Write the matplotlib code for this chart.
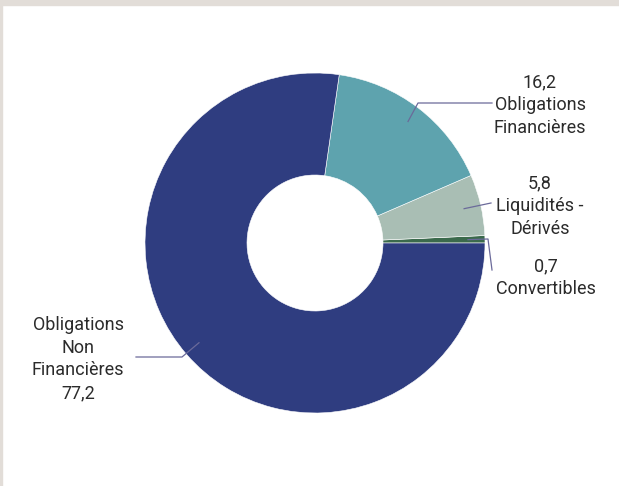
import matplotlib.pyplot as plt
import matplotlib.patches as mpatches
import numpy as np

# données (%)
labels = ['Convertibles', 'Liquidités -\nDérivés', 'Obligations\nFinancières', 'Obligations\nNon\nFinancières']
values = [0.7, 5.8, 16.2, 77.2]
value_txt = ['0,7', '5,8', '16,2', '77,2']
colors = ['#3b6a4c', '#a9beb4', '#5ea3ae', '#2f3d80']

W, H = 619, 486
cx, cy, R = 315, 243, 170   # centre et rayon en pixels

def p(x, y):
    # pixel -> coordonnées données (rayon du camembert = 1)
    return ((x - cx) / R, (cy - y) / R)

fig = plt.figure(figsize=(W / 100, H / 100), dpi=100)
fig.patch.set_facecolor('white')
ax = fig.add_axes([0, 0, 1, 1])
ax.axis('off')

wedges, _ = ax.pie(values, colors=colors, startangle=0, counterclock=True,
                   radius=1, wedgeprops=dict(width=0.6, edgecolor='white', linewidth=0.4))
ax.set_xlim(-cx / R, (W - cx) / R)
ax.set_ylim((cy - H) / R, cy / R)

# bordure grise (haut et gauche)
fig.patches.append(mpatches.Rectangle((0, 1 - 5 / H), 1, 5 / H, transform=fig.transFigure,
                                      color='#e2ddd8', zorder=0))
fig.patches.append(mpatches.Rectangle((0, 0), 2 / W, 1, transform=fig.transFigure,
                                      color='#e2ddd8', zorder=0))

# lignes de rappel : point d'ancrage sur l'angle médian de chaque part
line_col = '#6b6a9a'
elbows = [
    [p(488, 239), p(492, 270)],
    [p(491, 203)],
    [p(418, 103), p(492, 103)],
    [p(182, 357), p(136, 357)],
]
text_pos = [p(546, 278), p(540, 206), p(540, 105), p(78, 359)]

cum = 0
for i, v in enumerate(values):
    mid = np.deg2rad((cum + v / 2) / 100 * 360)
    cum += v
    a = (0.9 * np.cos(mid), 0.9 * np.sin(mid))
    pts = [a] + elbows[i]
    ax.plot([q[0] for q in pts], [q[1] for q in pts], color=line_col, lw=0.9)
    if i == 3:
        txt = labels[i] + '\n' + value_txt[i]
    else:
        txt = value_txt[i] + '\n' + labels[i]
    ax.text(text_pos[i][0], text_pos[i][1], txt, ha='center', va='center',
            fontsize=13, color='#2b2b2b', family='Roboto', linespacing=1.34)

fig.savefig('out.png', dpi=100)
